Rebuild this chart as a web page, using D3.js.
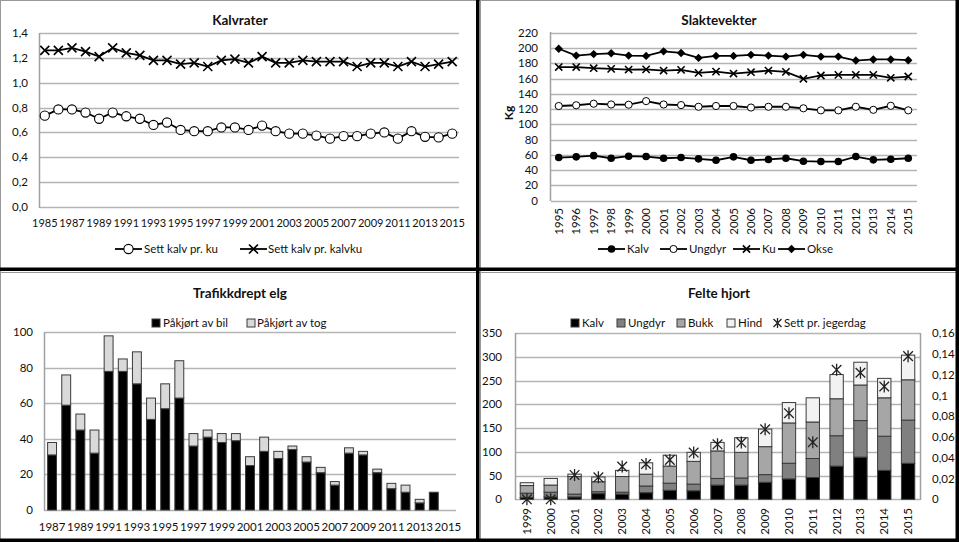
<!DOCTYPE html>
<html><head><meta charset="utf-8">
<script src="https://cdn.jsdelivr.net/npm/d3@7/dist/d3.min.js"></script>
<style>
body{margin:0;background:#fff}
svg{display:block}
text{font-family:Lato,"Open Sans",sans-serif;fill:#111}
</style>
</head><body>
<svg id="c" width="959" height="542"></svg>
<script>
// ---------------- DATA ----------------
// Panel 1: Kalvrater
const kalvraterYears = [1985,1986,1987,1988,1989,1990,1991,1992,1993,1994,1995,1996,1997,1998,1999,2000,2001,2002,2003,2004,2005,2006,2007,2008,2009,2010,2011,2012,2013,2014,2015];
const settKalvPrKu =     [0.735,0.785,0.785,0.76,0.71,0.76,0.73,0.71,0.66,0.68,0.62,0.61,0.61,0.64,0.64,0.62,0.655,0.61,0.59,0.59,0.575,0.55,0.57,0.57,0.59,0.60,0.55,0.61,0.565,0.56,0.59];
const settKalvPrKalvku = [1.26,1.26,1.28,1.25,1.21,1.28,1.24,1.22,1.18,1.18,1.15,1.16,1.13,1.18,1.19,1.16,1.21,1.16,1.16,1.18,1.17,1.17,1.17,1.13,1.16,1.16,1.13,1.17,1.13,1.15,1.17];
const kalvraterTicks = [0,0.2,0.4,0.6,0.8,1.0,1.2,1.4];
const kalvraterTickLabels = ["0,0","0,2","0,4","0,6","0,8","1,0","1,2","1,4"];

// Panel 2: Slaktevekter
const slaktYears = [1995,1996,1997,1998,1999,2000,2001,2002,2003,2004,2005,2006,2007,2008,2009,2010,2011,2012,2013,2014,2015];
const slaktKalv =   [56.5,57.4,59,55.6,58.3,57.8,55.6,56.5,54.8,53,57.4,53,54,55.6,51.7,51.3,51.3,57.8,53.5,54.3,55.6];
const slaktUngdyr = [124,125,127,126,125.7,130.4,126,125.2,123,124,124,122,123,123,121,118.3,118.3,123,119,124.3,118.3];
const slaktKu =     [175,175,173.5,172.6,171.7,172,170.4,171.3,167.4,169,166.5,168.3,170.4,168.7,159.6,164,164.8,164.8,164.8,160.9,162.6];
const slaktOkse =   [199,190,192,193,190,189.6,195.6,193.5,187,189.6,189.6,191,190,188.7,191,188.7,188.7,183.5,185,185,184];
const slaktTicks = [0,20,40,60,80,100,120,140,160,180,200,220];

// Panel 3: Trafikkdrept elg
const elgYears = [1987,1988,1989,1990,1991,1992,1993,1994,1995,1996,1997,1998,1999,2000,2001,2002,2003,2004,2005,2006,2007,2008,2009,2010,2011,2012,2013,2014,2015];
const elgBil = [31,59,45,32,78,78,71,51,57,63,36,41,38,39,25,33,29,34,27,21,14,32,31,21,12,10,4,10,0];
const elgTog = [7,17,9,13,20,7,18,12,14,21,7,4,5,4,5,8,4,2,3,3,2,3,2,2,3,4,2,0,0];
const elgTicks = [0,20,40,60,80,100];

// Panel 4: Felte hjort
const hjortYears = [1999,2000,2001,2002,2003,2004,2005,2006,2007,2008,2009,2010,2011,2012,2013,2014,2015];
const hjortKalv =   [4,5,5,12,11,14,19,18,30,30,36,43,46,70,89,61,76];
const hjortUngdyr = [9,10,6,4,4,14,15,14,14,15,16,33,40,64,77,72,91];
const hjortBukk =   [16,15,37,21,33,25,36,48,58,54,59,85,77,78,75,81,85];
const hjortHind =   [6,14,5,10,13,24,23,19,18,31,37,43,51,51,48,41,52];
const settPrJegerdag = [0,0,0.0235,0.0212,0.0315,0.034,0.038,0.045,0.053,0.0547,0.0675,0.083,0.055,0.1248,0.122,0.1087,0.138];
const hjortTicks = [0,50,100,150,200,250,300,350];
const jegerdagTicks = [0,0.02,0.04,0.06,0.08,0.1,0.12,0.14,0.16];
const jegerdagTickLabels = ["0","0,02","0,04","0,06","0,08","0,1","0,12","0,14","0,16"];

// ---------------- DRAWING ----------------
const svg = d3.select("#c");
const GRID = "#b4b4b4";
const AXIS = "#a0a0a0";
const FS = 11.5;

function title(x, y, t){
  svg.append("text").attr("x",x).attr("y",y).attr("text-anchor","middle")
    .attr("font-size",13.5).attr("font-weight","bold").attr("fill","#000").text(t);
}
function xMark(g, cx, cy, r, sw){
  g.append("path").attr("d",`M${cx-r},${cy-r}L${cx+r},${cy+r}M${cx-r},${cy+r}L${cx+r},${cy-r}`)
    .attr("stroke","#000").attr("stroke-width",sw).attr("fill","none");
}
function diamond(g, cx, cy, r){
  g.append("path").attr("d",`M${cx},${cy-r}L${cx+r},${cy}L${cx},${cy+r}L${cx-r},${cy}Z`).attr("fill","#000");
}
function star(g, cx, cy, r){
  g.append("path").attr("d",`M${cx-r*0.8},${cy-r*0.8}L${cx+r*0.8},${cy+r*0.8}M${cx-r*0.8},${cy+r*0.8}L${cx+r*0.8},${cy-r*0.8}M${cx},${cy-r}L${cx},${cy+r}`)
    .attr("stroke","#222").attr("stroke-width",1.3).attr("fill","none");
}
function grid(g, ticks, y, x0, x1){
  g.selectAll(null).data(ticks).join("line")
    .attr("x1",x0).attr("x2",x1).attr("y1",d=>Math.round(y(d))+0.5).attr("y2",d=>Math.round(y(d))+0.5)
    .attr("stroke",GRID).attr("stroke-width",1.5);
}

// ---- Panel 1 ----
(function(){
  const g = svg.append("g");
  title(240, 25, "Kalvrater");
  const x = d3.scaleBand().domain(kalvraterYears).range([38,459]);
  const y = d3.scaleLinear().domain([0,1.4]).range([207,33]);
  grid(g, kalvraterTicks, y, 40, 459);
  g.append("line").attr("x1",39.5).attr("x2",39.5).attr("y1",33).attr("y2",208).attr("stroke",AXIS).attr("stroke-width",1.5);
  g.selectAll(null).data(kalvraterTicks).join("text")
    .attr("x",28).attr("y",d=>y(d)).attr("dy","0.35em").attr("text-anchor","end").attr("font-size",FS)
    .text((d,i)=>kalvraterTickLabels[i]);
  const xAxis = d3.axisBottom(x).tickValues(kalvraterYears.filter((d,i)=>i%2===0)).tickSize(0).tickPadding(0);
  const ax = g.append("g").attr("transform","translate(0,217)").call(xAxis);
  ax.select(".domain").remove();
  ax.selectAll("text").attr("font-size",11).attr("font-family","Lato").attr("fill","#111").attr("dy","0.95em");
  const cx = d => x(d)+x.bandwidth()/2;
  const line = d3.line().x((d,i)=>cx(kalvraterYears[i])).y(d=>y(d));
  g.append("path").attr("d",line(settKalvPrKalvku)).attr("fill","none").attr("stroke","#000").attr("stroke-width",1.8);
  g.append("path").attr("d",line(settKalvPrKu)).attr("fill","none").attr("stroke","#000").attr("stroke-width",1.8);
  settKalvPrKalvku.forEach((v,i)=>xMark(g, cx(kalvraterYears[i]), y(v), 4.5, 1.6));
  g.selectAll(null).data(settKalvPrKu).join("circle")
    .attr("cx",(d,i)=>cx(kalvraterYears[i])).attr("cy",d=>y(d)).attr("r",4.6)
    .attr("fill","#fff").attr("stroke","#000").attr("stroke-width",1.1);
  // legend
  const ly = 249;
  g.append("line").attr("x1",115).attr("x2",142).attr("y1",ly).attr("y2",ly).attr("stroke","#000").attr("stroke-width",1.8);
  g.append("circle").attr("cx",128.5).attr("cy",ly).attr("r",4.6).attr("fill","#fff").attr("stroke","#000").attr("stroke-width",1.1);
  g.append("text").attr("x",144).attr("y",ly).attr("dy","0.35em").attr("font-size",FS).text("Sett kalv pr. ku");
  g.append("line").attr("x1",240).attr("x2",267).attr("y1",ly).attr("y2",ly).attr("stroke","#000").attr("stroke-width",1.8);
  xMark(g, 253.5, ly, 4.5, 1.6);
  g.append("text").attr("x",268).attr("y",ly).attr("dy","0.35em").attr("font-size",FS).text("Sett kalv pr. kalvku");
})();

// ---- Panel 2 ----
(function(){
  const g = svg.append("g");
  title(719, 25, "Slaktevekter");
  const x = d3.scaleBand().domain(slaktYears).range([550,917]);
  const y = d3.scaleLinear().domain([0,220]).range([200.7,32.7]);
  grid(g, slaktTicks, y, 551, 917);
  g.append("line").attr("x1",550.5).attr("x2",550.5).attr("y1",32).attr("y2",201).attr("stroke",AXIS).attr("stroke-width",1.5);
  g.selectAll(null).data(slaktTicks).join("text")
    .attr("x",538).attr("y",d=>y(d)).attr("dy","0.35em").attr("text-anchor","end").attr("font-size",FS).text(d=>d);
  g.append("text").attr("transform","translate(513,113) rotate(-90)").attr("text-anchor","middle")
    .attr("font-size",12).attr("font-weight","bold").attr("fill","#000").text("Kg");
  const cx = d => x(d)+x.bandwidth()/2;
  g.selectAll(null).data(slaktYears).join("text")
    .attr("transform",d=>`translate(${cx(d)+4},208) rotate(-90)`).attr("text-anchor","end")
    .attr("font-size",FS).text(d=>d);
  const line = d3.line().x((d,i)=>cx(slaktYears[i])).y(d=>y(d));
  [slaktOkse, slaktKu, slaktUngdyr, slaktKalv].forEach(s=>{
    g.append("path").attr("d",line(s)).attr("fill","none").attr("stroke","#000").attr("stroke-width",1.8);
  });
  slaktOkse.forEach((v,i)=>diamond(g, cx(slaktYears[i]), y(v), 4.2));
  slaktKu.forEach((v,i)=>xMark(g, cx(slaktYears[i]), y(v), 3.6, 1.6));
  g.selectAll(null).data(slaktUngdyr).join("circle")
    .attr("cx",(d,i)=>cx(slaktYears[i])).attr("cy",d=>y(d)).attr("r",3.6)
    .attr("fill","#fff").attr("stroke","#000").attr("stroke-width",1);
  g.selectAll(null).data(slaktKalv).join("circle")
    .attr("cx",(d,i)=>cx(slaktYears[i])).attr("cy",d=>y(d)).attr("r",3.8).attr("fill","#000");
  // legend
  const ly = 249;
  const items = [
    {x:598, t:"Kalv", m:(cx)=>g.append("circle").attr("cx",cx).attr("cy",ly).attr("r",3.8).attr("fill","#000")},
    {x:660, t:"Ungdyr", m:(cx)=>g.append("circle").attr("cx",cx).attr("cy",ly).attr("r",3.6).attr("fill","#fff").attr("stroke","#000")},
    {x:733, t:"Ku", m:(cx)=>xMark(g,cx,ly,3.6,1.6)},
    {x:778, t:"Okse", m:(cx)=>diamond(g,cx,ly,4.2)}
  ];
  items.forEach(it=>{
    g.append("line").attr("x1",it.x).attr("x2",it.x+27).attr("y1",ly).attr("y2",ly).attr("stroke","#000").attr("stroke-width",1.8);
    it.m(it.x+13.5);
    g.append("text").attr("x",it.x+29).attr("y",ly).attr("dy","0.35em").attr("font-size",FS).text(it.t);
  });
})();

// ---- Panel 3 ----
(function(){
  const g = svg.append("g");
  title(240, 298, "Trafikkdrept elg");
  const x = d3.scaleBand().domain(elgYears).range([45,455]).paddingInner(0.37).paddingOuter(0.185);
  const y = d3.scaleLinear().domain([0,100]).range([510,332.3]);
  grid(g, elgTicks, y, 45, 456);
  g.append("line").attr("x1",44.5).attr("x2",44.5).attr("y1",332).attr("y2",511).attr("stroke",AXIS).attr("stroke-width",1.5);
  g.selectAll(null).data(elgTicks).join("text")
    .attr("x",33).attr("y",d=>y(d)).attr("dy","0.35em").attr("text-anchor","end").attr("font-size",FS).text(d=>d);
  const band = d3.scaleBand().domain(elgYears).range([45,455]);
  g.selectAll(null).data(elgYears.filter((d,i)=>i%2===0)).join("text")
    .attr("x",d=>band(d)+band.bandwidth()/2).attr("y",527).attr("dy","0.35em").attr("text-anchor","middle")
    .attr("font-size",FS).text(d=>d);
  const stack = d3.stack().keys(["bil","tog"])(elgYears.map((yr,i)=>({yr, bil:elgBil[i], tog:elgTog[i]})));
  const colors = {bil:"#000", tog:"#d9d9d9"};
  stack.forEach(layer=>{
    g.selectAll(null).data(layer.filter(d=>d[1]-d[0]>0)).join("rect")
      .attr("x",d=>x(d.data.yr)).attr("width",x.bandwidth())
      .attr("y",d=>y(d[1])).attr("height",d=>y(d[0])-y(d[1]))
      .attr("fill",colors[layer.key]).attr("stroke","#3a3a3a").attr("stroke-width",1);
  });
  // legend
  const ly = 323;
  g.append("rect").attr("x",152).attr("y",ly-4).attr("width",8).attr("height",8).attr("fill","#000").attr("stroke","#3a3a3a");
  g.append("text").attr("x",163).attr("y",ly).attr("dy","0.35em").attr("font-size",FS).text("Påkjørt av bil");
  g.append("rect").attr("x",247).attr("y",ly-4).attr("width",8).attr("height",8).attr("fill","#d9d9d9").attr("stroke","#3a3a3a");
  g.append("text").attr("x",257).attr("y",ly).attr("dy","0.35em").attr("font-size",FS).text("Påkjørt av tog");
})();

// ---- Panel 4 ----
(function(){
  const g = svg.append("g");
  title(719, 298, "Felte hjort");
  const x = d3.scaleBand().domain(hjortYears).range([515,920]).paddingInner(0.44).paddingOuter(0.22);
  const y = d3.scaleLinear().domain([0,350]).range([499.3,333.3]);
  const y2 = d3.scaleLinear().domain([0,0.16]).range([499.3,333.3]);
  grid(g, hjortTicks, y, 515, 920);
  g.append("line").attr("x1",515.5).attr("x2",515.5).attr("y1",333).attr("y2",500).attr("stroke",AXIS).attr("stroke-width",1.5);
  g.append("line").attr("x1",920.5).attr("x2",920.5).attr("y1",333).attr("y2",500).attr("stroke",AXIS).attr("stroke-width",1.5);
  g.selectAll(null).data(hjortTicks).join("text")
    .attr("x",502).attr("y",d=>y(d)).attr("dy","0.35em").attr("text-anchor","end").attr("font-size",FS).text(d=>d);
  g.selectAll(null).data(jegerdagTicks).join("text")
    .attr("x",932).attr("y",d=>y2(d)).attr("dy","0.35em").attr("text-anchor","start").attr("font-size",FS)
    .text((d,i)=>jegerdagTickLabels[i]);
  const cx = d => x(d)+x.bandwidth()/2;
  g.selectAll(null).data(hjortYears).join("text")
    .attr("transform",d=>`translate(${cx(d)+4},508) rotate(-90)`).attr("text-anchor","end")
    .attr("font-size",FS).text(d=>d);
  const keys = ["kalv","ungdyr","bukk","hind"];
  const colors = {kalv:"#000", ungdyr:"#808080", bukk:"#a6a6a6", hind:"#f2f2f2"};
  const stack = d3.stack().keys(keys)(hjortYears.map((yr,i)=>({yr, kalv:hjortKalv[i], ungdyr:hjortUngdyr[i], bukk:hjortBukk[i], hind:hjortHind[i]})));
  stack.forEach(layer=>{
    g.selectAll(null).data(layer).join("rect")
      .attr("x",d=>x(d.data.yr)).attr("width",x.bandwidth())
      .attr("y",d=>y(d[1])).attr("height",d=>y(d[0])-y(d[1]))
      .attr("fill",colors[layer.key]).attr("stroke","#3a3a3a").attr("stroke-width",1);
  });
  settPrJegerdag.forEach((v,i)=>star(g, cx(hjortYears[i]), y2(v), 6));
  // legend
  const ly = 323;
  const items = [[571,"Kalv","#000"],[617,"Ungdyr","#808080"],[677,"Bukk","#a6a6a6"],[727,"Hind","#f2f2f2"]];
  items.forEach(([lx,t,c])=>{
    g.append("rect").attr("x",lx).attr("y",ly-4).attr("width",8).attr("height",8).attr("fill",c).attr("stroke","#3a3a3a");
    g.append("text").attr("x",lx+11).attr("y",ly).attr("dy","0.35em").attr("font-size",FS).text(t);
  });
  star(g, 777.5, ly, 5);
  g.append("text").attr("x",784).attr("y",ly).attr("dy","0.35em").attr("font-size",FS).text("Sett pr. jegerdag");
})();

// ---- Frames ----
const f = svg.append("g");
f.append("line").attr("x1",0.5).attr("x2",0.5).attr("y1",0).attr("y2",542).attr("stroke","#999");
f.append("line").attr("x1",480.5).attr("x2",480.5).attr("y1",0).attr("y2",542).attr("stroke","#999");
f.append("line").attr("x1",0).attr("x2",959).attr("y1",0.5).attr("y2",0.5).attr("stroke","#999");
f.append("line").attr("x1",0).attr("x2",959).attr("y1",272.5).attr("y2",272.5).attr("stroke","#999");
f.append("rect").attr("x",476).attr("y",0).attr("width",3.5).attr("height",542).attr("fill","#000");
f.append("rect").attr("x",955.5).attr("y",0).attr("width",3.5).attr("height",542).attr("fill","#000");
f.append("rect").attr("x",0).attr("y",267.5).attr("width",959).attr("height",3.5).attr("fill","#000");
f.append("rect").attr("x",0).attr("y",538.5).attr("width",959).attr("height",3.5).attr("fill","#000");
</script>
</body></html>
